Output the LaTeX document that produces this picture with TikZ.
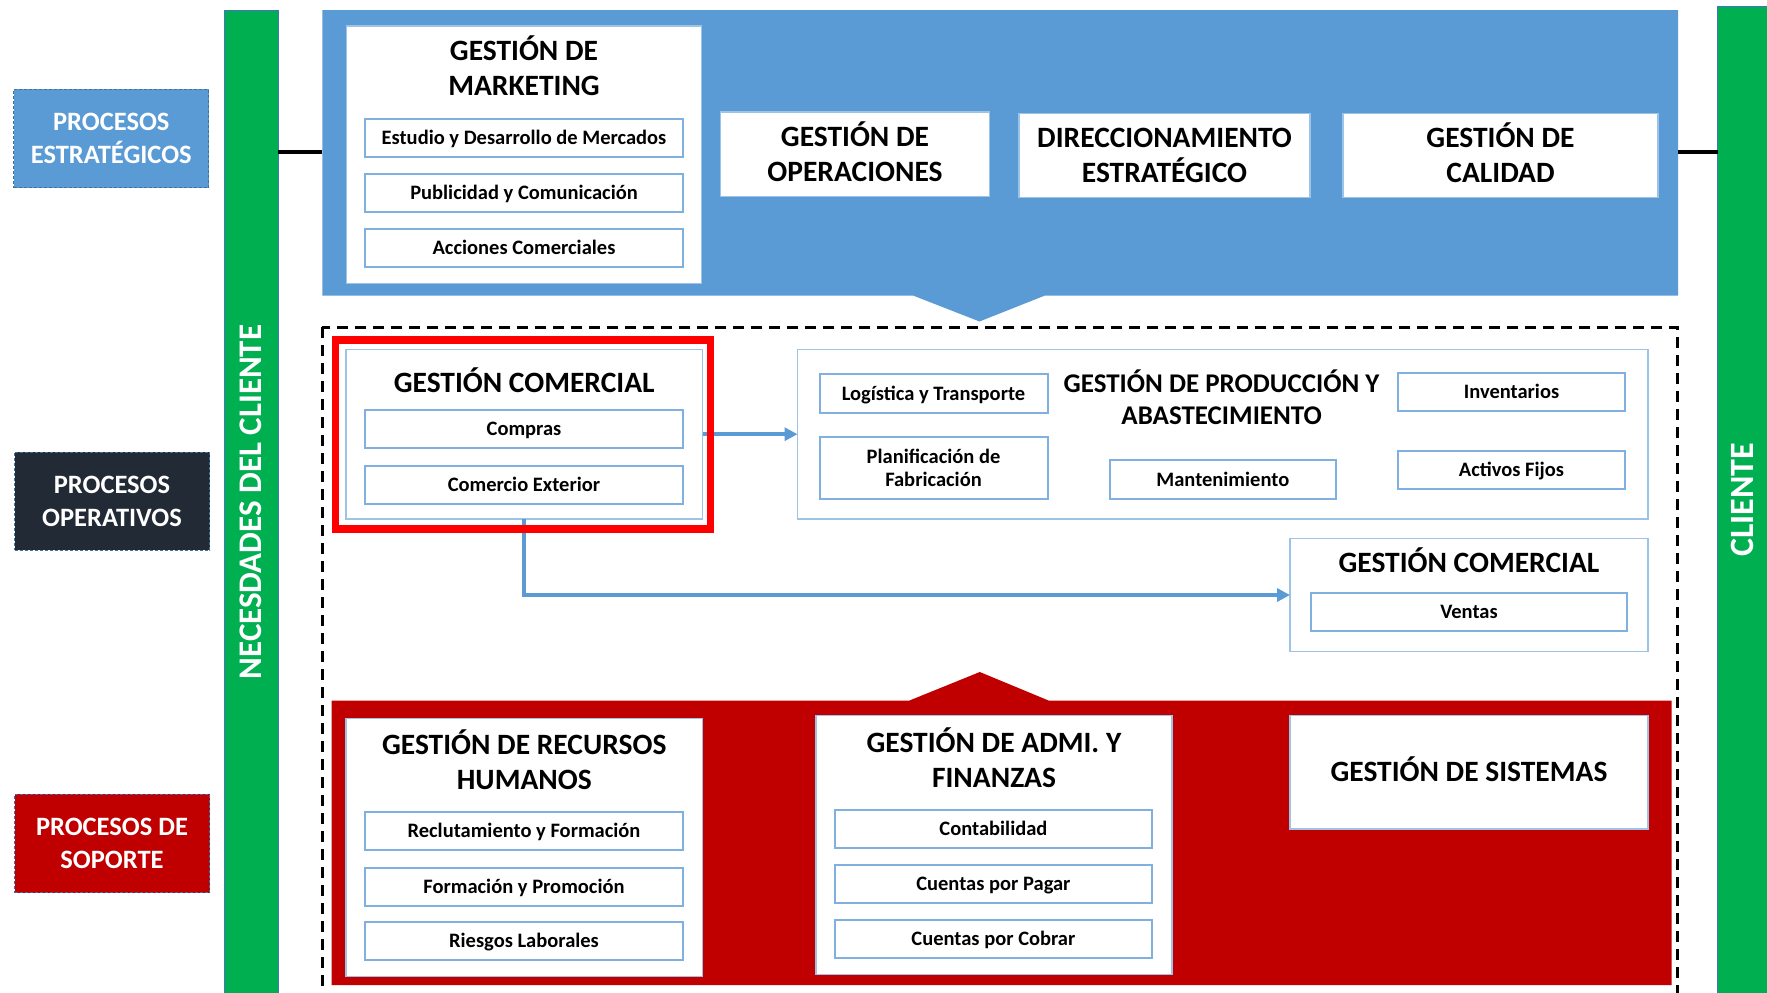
\documentclass[tikz,border=0pt]{standalone}
\usepackage{fontspec}
\setmainfont{Carlito}
\usetikzlibrary{arrows.meta}

\definecolor{stratblue}{HTML}{5B9BD5}
\definecolor{opdark}{HTML}{222A35}
\definecolor{supred}{HTML}{C00000}
\definecolor{clientgreen}{HTML}{00B050}
\definecolor{hilite}{HTML}{FF0000}
\definecolor{boxedge}{HTML}{9DC3E6}
\definecolor{subedge}{HTML}{7FB0E0}
\definecolor{flow}{HTML}{5B9BD5}
\definecolor{labeledge}{HTML}{41719C}
\definecolor{baredge}{HTML}{4472C4}

\tikzset{
  lbl/.style={rectangle, draw=labeledge, densely dashed, line width=0.8pt,
    text=white, font=\bfseries\fontsize{26.5}{32.6}\selectfont, align=center,
    inner sep=0pt, outer sep=0pt, minimum width=195pt, minimum height=98.5pt},
  panel/.style={rectangle, fill=white, draw=boxedge, line width=1.5pt,
    inner sep=0pt, outer sep=0pt, text=black, align=center,
    font=\bfseries\fontsize{29.5}{35}\selectfont},
  subbox/.style={rectangle, fill=white, draw=subedge, line width=2pt,
    inner sep=0pt, outer sep=0pt, text=black, align=center,
    font=\bfseries\fontsize{20.5}{23.3}\selectfont, minimum height=38pt},
  oneline/.style={text height=13.2pt, text depth=0pt},
  ttl/.style={font=\bfseries\fontsize{29.5}{35}\selectfont, align=center,
    inner sep=0pt, text=black},
  capline/.style={text height=19pt, text depth=0pt},
  bar/.style={rectangle, fill=clientgreen, draw=baredge, line width=1pt,
    inner sep=0pt, outer sep=0pt},
  bartext/.style={rotate=90, text=white, inner sep=0pt,
    font=\bfseries\fontsize{33}{40}\selectfont},
  flowarrow/.style={draw=flow, line width=4pt,
    -{Triangle[length=13pt, width=13pt]}},
  linkline/.style={draw=black, line width=4.3pt},
}

\begin{document}
\begin{tikzpicture}[x=1pt,y=-1pt]
\useasboundingbox (0,0) rectangle (1767,993);
\clip (0,0) rectangle (1767,993);

% ---- side bars ----
\node[bar, anchor=north west, minimum width=54.3pt, minimum height=1000pt] (needs) at (224,10.7) {};
\node[bar, anchor=north west, minimum width=60pt, minimum height=1000pt] (client) at (1717.5,6) {};
\node[bartext, text height=21pt, text depth=0pt] (needs-t) at (251.2,502) {NECESDADES DEL CLIENTE};
\node[bartext, text height=21pt, text depth=0pt, font=\bfseries\fontsize{34}{40}\selectfont] (client-t) at (1743,500) {CLIENTE};

% ---- strategic band ----
\fill[stratblue] (322.3,10) -- (1678,10) -- (1678,295.5) -- (1045,295.5)
  -- (979.5,321.5) -- (913,295.5) -- (322.3,295.5) -- cycle;
\coordinate (bandW) at (322.3,152);
\coordinate (bandE) at (1678,152);
\draw[linkline] (needs.east |- bandW) -- (bandW);
\draw[linkline] (bandE) -- (client.west |- bandE);

% ---- row labels ----
\node[lbl, fill=stratblue] (strat) at (111.3,138.6) {PROCESOS\\ESTRATÉGICOS};
\node[lbl, fill=opdark] (oper) at (112,501.2) {PROCESOS\\OPERATIVOS};
\node[lbl, fill=supred] (supp) at (112,843.6) {PROCESOS DE\\SOPORTE};

% ---- strategic processes ----
\node[panel, minimum width=354.9pt, minimum height=257.7pt] (mkt) at (524,154.8) {};
\node[ttl] (mkt-t) at (524,65.5) {GESTIÓN DE\\MARKETING};
\node[subbox, oneline, minimum width=318pt] (mkt-1) at (524,138.2) {Estudio y Desarrollo de Mercados};
\node[subbox, oneline, minimum width=318pt] (mkt-2) at (524,193.3) {Publicidad y Comunicación};
\node[subbox, oneline, minimum width=318pt] (mkt-3) at (524,248.2) {Acciones Comerciales};

\node[panel, minimum width=268.6pt, minimum height=84.3pt] (ops) at (855,154.2) {};
\node[ttl] (ops-t) at (855,151.4) {GESTIÓN DE\\OPERACIONES};
\node[panel, minimum width=291pt, minimum height=84.4pt] (dir) at (1164.5,155.5) {};
\node[ttl] (dir-t) at (1164.5,155.8) {DIRECCIONAMIENTO\\ESTRATÉGICO};
\node[panel, minimum width=315pt, minimum height=84.4pt] (cal) at (1500.5,155.5) {};
\node[ttl] (cal-t) at (1500.5,153) {GESTIÓN DE\\CALIDAD};

% ---- operational processes ----
\draw[dashed, dash pattern=on 11pt off 7pt, line width=2.5pt] (322.3,327.3) rectangle (1677.6,1010);

\node[panel, minimum width=356.5pt, minimum height=169.7pt] (com) at (524.25,434.2) {};
\node[ttl, capline] (com-t) at (524.25,382.7) {GESTIÓN COMERCIAL};
\node[subbox, oneline, minimum width=318pt] (com-1) at (524,429) {Compras};
\node[subbox, oneline, minimum width=318pt] (com-2) at (524,484.7) {Comercio Exterior};

\node[panel, minimum width=850.5pt, minimum height=169.7pt] (prod) at (1222.75,434.2) {};
\node[ttl, font=\bfseries\fontsize{27}{31.5}\selectfont] (prod-t) at (1221.6,397) {GESTIÓN DE PRODUCCIÓN Y\\ABASTECIMIENTO};
\node[subbox, oneline, minimum width=228pt, minimum height=39.3pt] (prod-1) at (933.5,393.7) {Logística y Transporte};
\node[subbox, minimum width=228pt, minimum height=62.6pt] (prod-2) at (933.5,468) {Planificación de\\Fabricación};
\node[subbox, oneline, minimum width=226.4pt, minimum height=39.3pt] (prod-3) at (1222.8,479.7) {Mantenimiento};
\node[subbox, oneline, minimum width=226.6pt] (prod-4) at (1511.5,391.7) {Inventarios};
\node[subbox, oneline, minimum width=226.6pt] (prod-5) at (1511.5,469.5) {Activos Fijos};

\node[panel, minimum width=358pt, minimum height=113.4pt] (gcv) at (1469,595) {};
\node[ttl, capline] (gcv-t) at (1469,563.3) {GESTIÓN COMERCIAL};
\node[subbox, oneline, minimum width=316.5pt, minimum height=37.7pt] (gcv-1) at (1469,612.2) {Ventas};

\draw[flowarrow] (com.east) -- (prod.west);
\draw[flowarrow] (com.south) |- (gcv.west);

\node[draw=hilite, line width=7.5pt, inner sep=0pt, outer sep=0pt,
  minimum width=375pt, minimum height=189pt] (focus) at (523,434.5) {};

% ---- support processes ----
\fill[supred] (331.5,700.7) -- (909,700.7) -- (979.8,672) -- (1049,700.7)
  -- (1671.7,700.7) -- (1671.7,985) -- (331.5,985) -- cycle;

\node[panel, minimum width=356.3pt, minimum height=258.4pt] (hr) at (524.3,847.5) {};
\node[ttl] (hr-t) at (524.3,759.5) {GESTIÓN DE RECURSOS\\HUMANOS};
\node[subbox, oneline, minimum width=318pt] (hr-1) at (524,831.3) {Reclutamiento y Formación};
\node[subbox, oneline, minimum width=318pt] (hr-2) at (524,886.7) {Formación y Promoción};
\node[subbox, oneline, minimum width=318pt] (hr-3) at (524,941.3) {Riesgos Laborales};

\node[panel, minimum width=356.3pt, minimum height=259pt] (fin) at (994,844.8) {};
\node[ttl] (fin-t) at (994,757.5) {GESTIÓN DE ADMI. Y\\FINANZAS};
\node[subbox, oneline, minimum width=316.6pt] (fin-1) at (993.4,829.3) {Contabilidad};
\node[subbox, oneline, minimum width=316.6pt] (fin-2) at (993.4,884) {Cuentas por Pagar};
\node[subbox, oneline, minimum width=316.6pt] (fin-3) at (993.4,939.2) {Cuentas por Cobrar};

\node[panel, minimum width=358pt, minimum height=113.3pt, capline] (sys) at (1469,772.3) {GESTIÓN DE SISTEMAS};

\end{tikzpicture}
\end{document}
